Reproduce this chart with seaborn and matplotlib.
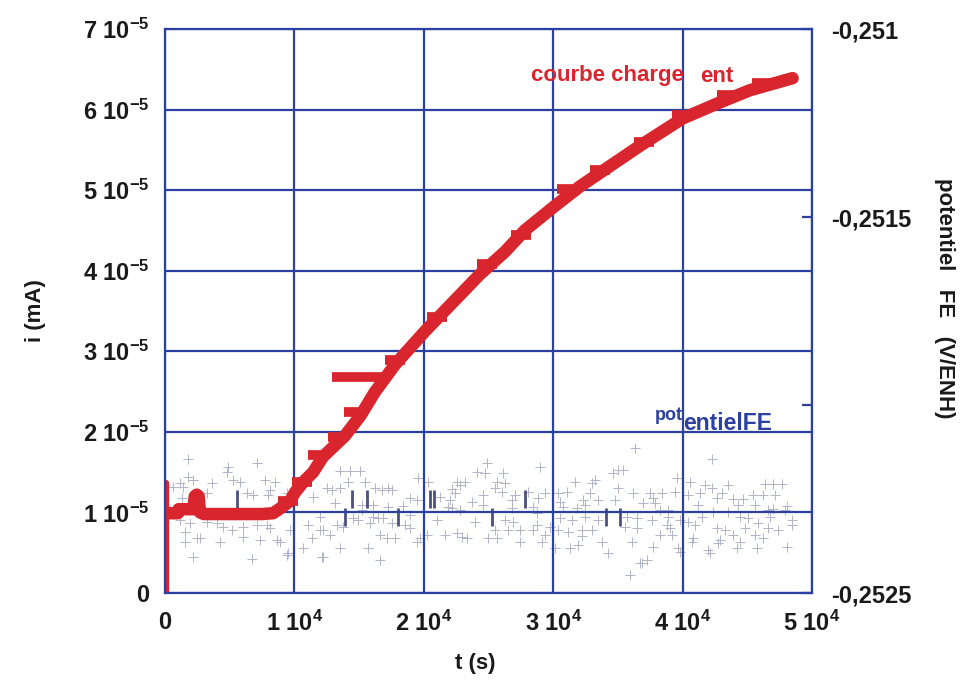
import matplotlib
matplotlib.use("Agg")
import matplotlib.pyplot as plt
import seaborn as sns
import pandas as pd

# ---------------- data ----------------
# loading curve (courbe chargement): time (s) and current (mA)
t_spike = [100, 100]
i_spike = [0.0, 1.37e-5]
t_charge = [150, 1000, 1050, 2200, 2300, 2450, 2600, 2700, 3000, 4500, 6300, 7500,
            8350, 8900, 9650, 10050, 10700, 11450, 12200, 13900, 15100, 16200, 17800,
            20100, 21300, 22800, 24300, 26300, 27800, 30100, 32100, 34400, 36700,
            40000, 42900, 45200, 48500]
i_charge = [0.99e-5, 0.99e-5, 1.04e-5, 1.04e-5, 1.2e-5, 1.22e-5, 1.2e-5, 1.0e-5,
            0.98e-5, 0.98e-5, 0.98e-5, 0.98e-5, 0.99e-5, 1.05e-5, 1.14e-5, 1.25e-5,
            1.38e-5, 1.5e-5, 1.69e-5, 1.95e-5, 2.2e-5, 2.49e-5, 2.84e-5, 3.25e-5,
            3.45e-5, 3.7e-5, 3.95e-5, 4.24e-5, 4.5e-5, 4.8e-5, 5.05e-5, 5.3e-5,
            5.55e-5, 5.89e-5, 6.09e-5, 6.24e-5, 6.39e-5]
# step "tabs" along the loading curve
tab_t = [9500, 10600, 11830, 13370, 14610, 17780, 21000, 24900, 27500, 31070, 33600,
         37000, 39960, 43440, 46150]
tab_i = [1.14e-5, 1.38e-5, 1.71e-5, 1.94e-5, 2.25e-5, 2.89e-5, 3.42e-5, 4.08e-5,
         4.44e-5, 5.02e-5, 5.25e-5, 5.6e-5, 5.93e-5, 6.18e-5, 6.33e-5]
bigtab_t = [14920]
bigtab_i = [2.68e-5]

# potential FE (V/ENH)
t_pot = [1780, 4870, 7110, 4790, 1780, 2160, 1160, 620, 1390, 3630, 5260, 5800, 7730, 8500,
         3250, 6340, 6800, 8120, 7960, 9430, 11440, 1310, 390, 1160, 1930, 3250, 4020, 4480,
         5180, 6030, 7110, 7890, 8120, 9660, 11050, 11980, 1550, 2470, 2710, 1550, 4250,
         6030, 7340, 8660, 8890, 11360, 10670, 2160, 6730, 9430, 9510, 12140,
         13530, 14300, 15070, 14150, 15460, 12520, 12910, 13530, 16230, 16770, 17240, 17550,
         19560, 20330, 22570, 23190, 24120, 22800, 22190, 22420, 18940, 19480, 21260, 22030,
         23730, 13140, 15230, 16080, 17240, 18400, 21880, 22190, 22800, 15230, 11980, 14530,
         14920, 16080, 16470, 16850, 18940, 21030, 23960, 13300, 13760, 15850, 17550, 18550,
         18940, 12760, 12210, 16620, 17160, 17780, 19710, 19480, 20250, 21640, 22570, 22960,
         23350, 13530, 15690, 12210, 16620,
         24890, 28990, 24740, 26130, 36330, 25660, 26280, 25510, 26050, 24580, 27060, 28060,
         29370, 30380, 31080, 31690, 33010, 33240, 32850, 35020, 34630, 35400, 35020, 36180,
         28830, 26820, 30530, 32310, 33470, 34790, 24580, 26820, 28450, 30770, 31850, 32470,
         36950, 28760, 30530, 31460, 32470, 33470, 35710, 36490, 26280, 26900, 28760, 29760,
         25510, 26510, 27440, 28450, 30380, 31150, 32230, 33010, 35560, 36490, 29370, 32230,
         24970, 25660, 27440, 29140, 33780, 36100, 30150, 31310, 31930, 34240, 36870, 35950,
         42280, 39580, 40580, 41740, 42280, 43520, 46380, 47000, 47690, 37490, 38420, 39420,
         41360, 40430, 43060, 45450, 46230, 47150, 37720, 42670, 43910, 44680, 37880, 41200,
         44290, 45610, 48080, 38260, 38880, 46610, 47000, 47930, 42360, 43520, 38880, 41510,
         44450, 45070, 46770, 48470, 37650, 39810, 40430, 38810, 40970, 45840, 48470, 39040,
         42670, 43290, 44830, 46610, 47390, 38260, 39190, 43910, 45610, 40810, 42900, 46230,
         44450, 40740, 42750, 37720, 39660, 41970, 44220, 45760, 48080, 39810, 42130, 37260,
         36720]
v_pot = [-0.252144, -0.252165, -0.252154, -0.252178, -0.252191, -0.252199, -0.252207,
         -0.252218, -0.252218, -0.252207, -0.252199, -0.252205, -0.252199, -0.252205,
         -0.252234, -0.252234, -0.252239, -0.252226, -0.252239, -0.252234, -0.252245,
         -0.252247, -0.252279, -0.252306, -0.252314, -0.252311, -0.252314, -0.252324,
         -0.252332, -0.252324, -0.252319, -0.252319, -0.252327, -0.252332, -0.252319,
         -0.252332, -0.252338, -0.252354, -0.252354, -0.252364, -0.252364, -0.252351,
         -0.252359, -0.252359, -0.252364, -0.252354, -0.25238, -0.252404, -0.25241,
         -0.252399, -0.252394, -0.252404,
         -0.252175, -0.252175, -0.252175, -0.252205, -0.252205, -0.252221, -0.252226,
         -0.252221, -0.252221, -0.252226, -0.252221, -0.252226, -0.252194, -0.252205,
         -0.252205, -0.252205, -0.252178, -0.252213, -0.252223, -0.252234, -0.252247,
         -0.252253, -0.252245, -0.252253, -0.252258, -0.252261, -0.252266, -0.252266,
         -0.252271, -0.252269, -0.252271, -0.252274, -0.252279, -0.252279, -0.252298,
         -0.2523, -0.252306, -0.252298, -0.2523, -0.2523, -0.252293, -0.252306, -0.252311,
         -0.252319, -0.252324, -0.252314, -0.252314, -0.252319, -0.252327, -0.252346,
         -0.252332, -0.252346, -0.252354, -0.252354, -0.252354, -0.252364, -0.252346,
         -0.252346, -0.25234, -0.252351, -0.252354, -0.25238, -0.25238, -0.252404, -0.252412,
         -0.252154, -0.252165, -0.252181, -0.252181, -0.252114, -0.252205, -0.252207,
         -0.252221, -0.252231, -0.252239, -0.252239, -0.252231, -0.252234, -0.252234,
         -0.252231, -0.252205, -0.252207, -0.252199, -0.252234, -0.252173, -0.252181,
         -0.252173, -0.252221, -0.252234, -0.252247, -0.252253, -0.252258, -0.252253,
         -0.252253, -0.252253, -0.252266, -0.252274, -0.252271, -0.252271, -0.252274,
         -0.252266, -0.252261, -0.252287, -0.2523, -0.252306, -0.252298, -0.252306,
         -0.252298, -0.2523, -0.252306, -0.252311, -0.252319, -0.252324, -0.252332,
         -0.252332, -0.252332, -0.252332, -0.252332, -0.252338, -0.252332, -0.252332,
         -0.252324, -0.252327, -0.252346, -0.252348, -0.252354, -0.252354, -0.252364,
         -0.252364, -0.252364, -0.252364, -0.25238, -0.25238, -0.252372, -0.252394,
         -0.25242, -0.252452,
         -0.252144, -0.252194, -0.252205, -0.252213, -0.252221, -0.252213, -0.25221,
         -0.25221, -0.25221, -0.252234, -0.252234, -0.252231, -0.252234, -0.252239,
         -0.252234, -0.252239, -0.252239, -0.252239, -0.252247, -0.252247, -0.25225,
         -0.25225, -0.252261, -0.252266, -0.252266, -0.252266, -0.252269, -0.252279,
         -0.252279, -0.252279, -0.252277, -0.252279, -0.252285, -0.252285, -0.252298,
         -0.252298, -0.252298, -0.2523, -0.252298, -0.252306, -0.252306, -0.252306,
         -0.252311, -0.252319, -0.252319, -0.252314, -0.252319, -0.252327, -0.252327,
         -0.252332, -0.252327, -0.252327, -0.252332, -0.252346, -0.252346, -0.252346,
         -0.252346, -0.252354, -0.252359, -0.252354, -0.252364, -0.252364, -0.252367,
         -0.252378, -0.25238, -0.252386, -0.25238, -0.25238, -0.252378, -0.252391,
         -0.252394, -0.252412, -0.25242]
# darker vertical bars within the potential record
t_bar = [5570, 14460, 15620, 13910, 18010, 20490, 20790, 27830, 25280, 34090, 35170]
v_bar = [-0.25225, -0.25225, -0.25225, -0.252298, -0.252298, -0.25225, -0.25225,
         -0.25225, -0.252298, -0.252298, -0.252298]

x_ticks = [0, 1e4, 2e4, 3e4, 4e4, 5e4]
x_labels = ["0", r"1 10$^{4}$", r"2 10$^{4}$", r"3 10$^{4}$", r"4 10$^{4}$", r"5 10$^{4}$"]
y_ticks = [0, 1e-5, 2e-5, 3e-5, 4e-5, 5e-5, 6e-5, 7e-5]
y_labels = ["0", r"1 10$^{-5}$", r"2 10$^{-5}$", r"3 10$^{-5}$", r"4 10$^{-5}$",
            r"5 10$^{-5}$", r"6 10$^{-5}$", r"7 10$^{-5}$"]
y2_ticks = [-0.2525, -0.252, -0.2515, -0.251]
y2_labels = ["-0,2525", "", "-0,2515", "-0,251"]

# ---------------- style ----------------
sns.set_theme(style="white")
plt.rcParams["font.family"] = ["Liberation Sans", "DejaVu Sans"]
plt.rcParams["font.weight"] = "bold"
plt.rcParams["mathtext.fontset"] = "custom"
for k in ("rm", "it", "bf", "sf"):
    plt.rcParams["mathtext." + k] = "Liberation Sans:bold"

BLUE = "#2b40a0"
RED = "#d9252d"
GRAY = "#b0b4c6"
DARK = "#4a5080"
TXT = "#1a1a1a"

W, H = 960, 684
fig = plt.figure(figsize=(9.6, 6.84), dpi=100)
L, R, T, B = 165, 812, 29, 593
ax = fig.add_axes([L / W, 1 - B / H, (R - L) / W, (B - T) / H])
ax2 = ax.twinx()

# potential on the right axis
sns.scatterplot(x=t_pot, y=v_pot, ax=ax2, marker="+", s=60, linewidth=0.7,
                color=GRAY, legend=False)
sns.scatterplot(x=t_bar, y=v_bar, ax=ax2, marker="|", s=170, linewidth=2.0,
                color=DARK, legend=False)
ax2.set_ylim(-0.2525, -0.251)
ax2.set_yticks(y2_ticks)
ax2.set_yticklabels(y2_labels)
ax2.tick_params(axis="y", direction="in", length=7, width=1.6, color=BLUE, pad=14,
                labelsize=17, labelcolor=TXT)
for s in ax2.spines.values():
    s.set_visible(False)

# loading curve on the left axis (drawn on top)
ax.set_zorder(ax2.get_zorder() + 1)
ax.patch.set_visible(False)
sns.lineplot(x=t_spike, y=i_spike, ax=ax, estimator=None, sort=False, color=RED,
             linewidth=4.5, legend=False)
sns.lineplot(x=t_charge, y=i_charge, ax=ax, estimator=None, sort=False, color=RED,
             linewidth=9, legend=False)
sns.scatterplot(x=tab_t, y=tab_i, ax=ax, marker="_", s=200, linewidth=7,
                color=RED, legend=False)
sns.scatterplot(x=bigtab_t, y=bigtab_i, ax=ax, marker="_", s=1400, linewidth=7,
                color=RED, legend=False)

ax.set_xlim(0, 5e4)
ax.set_ylim(0, 7e-5)
ax.set_xticks(x_ticks)
ax.set_xticklabels(x_labels)
ax.set_yticks(y_ticks)
ax.set_yticklabels(y_labels)
ax.tick_params(axis="both", length=0, labelsize=17, labelcolor=TXT)
ax.tick_params(axis="x", pad=13)
ax.tick_params(axis="y", pad=11)
ax.set_axisbelow(True)
ax.grid(True, color=BLUE, linewidth=1.6)
for s in ax.spines.values():
    s.set_visible(True)
    s.set_color(BLUE)
    s.set_linewidth(1.6)
ax.set_xlabel("")
ax.set_ylabel("")

# axis titles
fig.text(36 / W, 1 - 311 / H, "i (mA)", rotation=90, ha="center", va="center",
         fontsize=16, fontweight="bold", color=TXT)
fig.text(475 / W, 1 - 664 / H, "t (s)", ha="center", va="center",
         fontsize=16, fontweight="bold", color=TXT)
fig.text(945 / W, 1 - 298 / H, "potentiel   FE   (V/ENH)", rotation=270,
         ha="center", va="center", fontsize=16, fontweight="bold", color=TXT)

# in-plot annotations
fig.text(531 / W, 1 - 76 / H, "courbe charge", ha="left", va="center",
         fontsize=16, fontweight="bold", color=RED)
fig.text(700 / W, 1 - 76 / H, "ent", ha="left", va="center",
         fontsize=16, fontweight="bold", color=RED)
fig.text(655 / W, 1 - 416 / H, "pot", ha="left", va="center",
         fontsize=13, fontweight="bold", color=BLUE)
fig.text(683 / W, 1 - 423 / H, "entielFE", ha="left", va="center",
         fontsize=16.5, fontweight="bold", color=BLUE)

fig.savefig("out.png", dpi=100)
